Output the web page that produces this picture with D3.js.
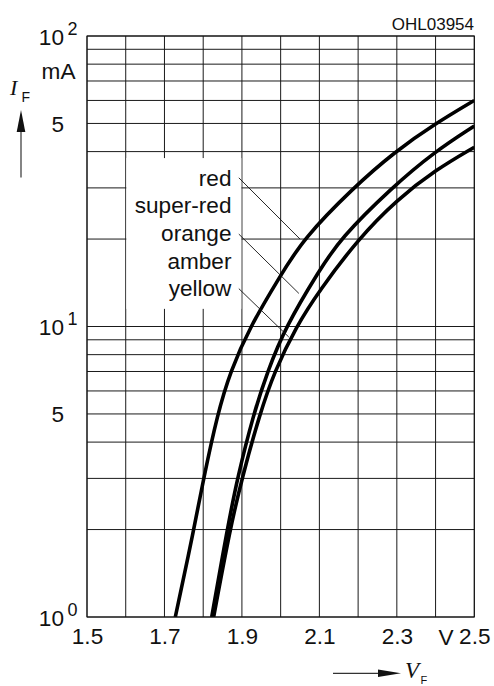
<!DOCTYPE html>
<html><head><meta charset="utf-8">
<script src="https://cdn.jsdelivr.net/npm/d3@7/dist/d3.min.js"></script>
<style>body{margin:0;background:#fff}svg{display:block}</style>
</head><body>
<svg id="c" width="494" height="686"></svg>
<script>
// ---- data ----
const xTicks = [1.5, 1.7, 1.9, 2.1, 2.3, 2.5];
const xTickLabels = ["1.5", "1.7", "1.9", "2.1", "2.3", "2.5"];
const xGrid = [1.5, 1.6, 1.7, 1.8, 1.9, 2.0, 2.1, 2.2, 2.3, 2.4, 2.5];
const yDecades = [1, 10, 100];
const yDecadeExp = ["0", "1", "2"];
const yFives = [5, 50];
const yMantissa = [1, 2, 3, 4, 5, 6, 7, 8, 9];

const redV = [1.728, 1.776, 1.801, 1.837, 1.870, 1.921, 2.0, 2.058, 2.187, 2.295, 2.4, 2.5];
const redI = [1, 2, 3, 5, 7, 10, 15, 20, 30, 40, 50, 60];
const orangeV = [1.822, 1.862, 1.888, 1.930, 1.966, 2.013, 2.1, 2.153, 2.286, 2.398, 2.5];
const orangeI = [1, 2, 3, 5, 7, 10, 15.6, 20, 30, 40, 49];
const yellowV = [1.827, 1.869, 1.900, 1.946, 1.984, 2.04, 2.1, 2.2, 2.3, 2.4, 2.5];
const yellowI = [1, 2, 3, 5, 7, 10, 13.3, 20, 27.3, 34.6, 41.4];

const labelTexts = ["red", "super-red", "orange", "amber", "yellow"];
const leaderFromV = [1.892, 1.892, 1.892];
const leaderFromI = [32.5, 20.8, 13.5];
const leaderToV = [2.050, 2.047, 2.021];
const leaderToI = [20.0, 13.0, 9.2];
const docCode = "OHL03954";

// ---- layout ----
const svg = d3.select("#c");
const L = 87, R = 474.3, T = 36, B = 617;
const x = d3.scaleLinear().domain([1.5, 2.5]).range([L, R]);
const y = d3.scaleLog().domain([1, 100]).range([B, T]);
const sans = "'Liberation Sans', Arial, Helvetica, sans-serif";
const serif = "'Liberation Serif', 'Times New Roman', serif";
const ink = "#111";
const fs = 22.6;

// horizontal gridlines
const hVals = [];
yDecades.slice(0, 2).forEach(d => yMantissa.forEach(m => hVals.push(d * m)));
hVals.push(100);
const grid = svg.append("g").attr("stroke", "#1a1a1a").attr("stroke-width", 1);
grid.selectAll("line.h").data(hVals).join("line")
  .attr("x1", L).attr("x2", R).attr("y1", d => y(d)).attr("y2", d => y(d));
grid.selectAll("line.v").data(xGrid).join("line")
  .attr("x1", d => x(d)).attr("x2", d => x(d)).attr("y1", T).attr("y2", B);

// white box behind the curve labels
svg.append("rect")
  .attr("x", x(1.6) + 0.6).attr("width", x(1.9) - x(1.6) - 1.2)
  .attr("y", y(38)).attr("height", y(11.5) - y(38))
  .attr("fill", "#fff");

// curves
const series = [
  {v: redV, i: redI},
  {v: orangeV, i: orangeI},
  {v: yellowV, i: yellowI}
];
const line = d3.line().x(d => x(d[0])).y(d => y(d[1])).curve(d3.curveBasis);
svg.append("defs").append("clipPath").attr("id", "clip")
  .append("rect").attr("x", L).attr("y", T).attr("width", R - L).attr("height", B - T);
svg.append("g").attr("clip-path", "url(#clip)")
  .selectAll("path").data(series).join("path")
  .attr("d", s => line(s.v.map((v, k) => [v, s.i[k]])))
  .attr("fill", "none").attr("stroke", "#000").attr("stroke-width", 3.6)
  .attr("stroke-linejoin", "round");

// leader lines
svg.append("g").selectAll("line").data(leaderFromV).join("line")
  .attr("x1", (d, k) => x(d)).attr("y1", (d, k) => y(leaderFromI[k]))
  .attr("x2", (d, k) => x(leaderToV[k])).attr("y2", (d, k) => y(leaderToI[k]))
  .attr("stroke", "#111").attr("stroke-width", 0.9);

// curve labels
svg.append("g").selectAll("text").data(labelTexts).join("text")
  .attr("x", x(1.873)).attr("y", (d, k) => 185.7 + k * 27.6)
  .attr("text-anchor", "end").attr("font-family", sans).attr("font-size", fs)
  .attr("fill", ink).text(d => d);

// frame
svg.append("rect").attr("x", L).attr("y", T).attr("width", R - L).attr("height", B - T)
  .attr("fill", "none").attr("stroke", "#111").attr("stroke-width", 1);

// x axis tick labels
const xAxis = d3.axisBottom(x).tickValues(xTicks)
  .tickFormat((d, k) => xTickLabels[k]).tickSize(0).tickPadding(11);
const gx = svg.append("g").attr("transform", `translate(0,${B})`).call(xAxis);
gx.select(".domain").remove();
gx.selectAll("text").attr("font-family", sans).attr("font-size", fs).attr("fill", ink);
svg.append("text").attr("x", x(2.4) + 10.5).attr("y", 645)
  .attr("text-anchor", "middle").attr("font-family", sans).attr("font-size", fs)
  .attr("fill", ink).text("V");

// y axis labels
yDecades.forEach((d, k) => {
  svg.append("text").attr("x", 64).attr("y", y(d) + 8.5).attr("text-anchor", "end")
    .attr("font-family", sans).attr("font-size", fs).attr("fill", ink).text("10");
  svg.append("text").attr("x", 67.5).attr("y", y(d) - 1.5).attr("font-family", sans)
    .attr("font-size", 18).attr("fill", ink).text(yDecadeExp[k]);
});
yFives.forEach(d => {
  svg.append("text").attr("x", 64).attr("y", y(d) + 8.5).attr("text-anchor", "end")
    .attr("font-family", sans).attr("font-size", fs).attr("fill", ink).text("5");
});
svg.append("text").attr("x", 75.5).attr("y", 78.5).attr("text-anchor", "end")
  .attr("font-family", sans).attr("font-size", fs).attr("fill", ink).text("mA");

// I_F label with arrow
svg.append("text").attr("x", 10).attr("y", 95).attr("font-family", serif)
  .attr("font-style", "italic").attr("font-size", 22).attr("fill", ink).text("I");
svg.append("text").attr("x", 21.5).attr("y", 101.5).attr("font-family", sans)
  .attr("font-size", 14).attr("fill", ink).text("F");
svg.append("line").attr("x1", 21).attr("x2", 21).attr("y1", 177.5).attr("y2", 128)
  .attr("stroke", "#333").attr("stroke-width", 1.2);
svg.append("path").attr("d", "M21,110 L25.3,132 L16.7,132 Z").attr("fill", "#111");

// V_F label with arrow
svg.append("line").attr("x1", 333).attr("x2", 382).attr("y1", 673.3).attr("y2", 673.3)
  .attr("stroke", "#333").attr("stroke-width", 1.2);
svg.append("path").attr("d", "M401,673.3 L378,669.6 L378,677 Z").attr("fill", "#111");
svg.append("text").attr("x", 405).attr("y", 678).attr("font-family", serif)
  .attr("font-style", "italic").attr("font-size", 23).attr("fill", ink).text("V");
svg.append("text").attr("x", 420.5).attr("y", 684).attr("font-family", sans)
  .attr("font-size", 11).attr("fill", ink).text("F");

// document code
svg.append("text").attr("x", 474).attr("y", 29.5).attr("text-anchor", "end")
  .attr("font-family", sans).attr("font-size", 17).attr("fill", ink).text(docCode);
</script>
</body></html>
